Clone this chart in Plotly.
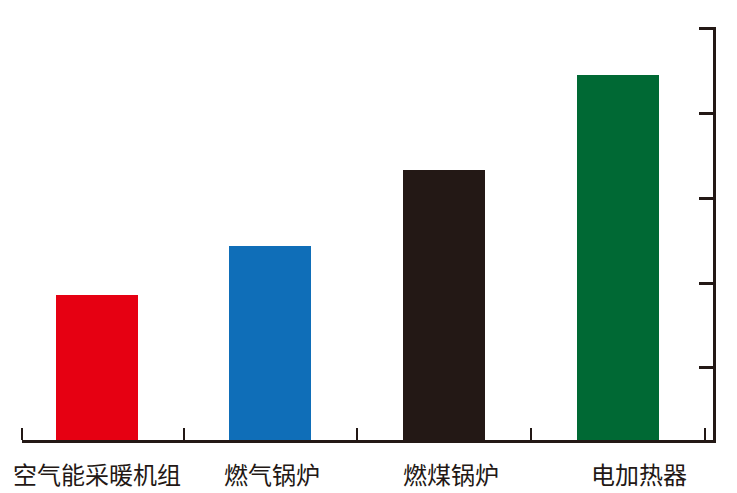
import plotly.graph_objects as go

categories = ["空气能采暖机组", "燃气锅炉", "燃煤锅炉", "电加热器"]
values = [1.856, 2.434, 3.334, 4.458]
colors = ["#E60012", "#0F6EB8", "#231815", "#006934"]
y_ticks = [1, 2, 3, 4, 5]

# horizontal nudges of the category labels (pixels), as laid out in the reference
label_shift = [0, 2, 7, 21]

axis_color = "#231815"

fig = go.Figure(
    go.Bar(
        x=categories,
        y=values,
        marker=dict(color=colors, line=dict(width=0)),
        width=0.472,
        showlegend=False,
    )
)

# page body adds an 8px offset; margins compensate so the plot area lands where the reference has it
fig.update_layout(
    width=737,
    height=493,
    margin=dict(l=14, r=32, t=19, b=61, autoexpand=False),
    paper_bgcolor="white",
    plot_bgcolor="white",
    font=dict(family="Noto Sans CJK SC", color=axis_color),
    bargap=0,
)

fig.update_xaxes(
    type="category",
    range=[-0.43, 3.548],
    automargin=False,
    showline=True,
    linecolor=axis_color,
    linewidth=3,
    ticks="inside",
    tickson="boundaries",
    ticklen=12,
    tickwidth=2,
    tickcolor=axis_color,
    showgrid=False,
    showticklabels=False,
)

fig.update_yaxes(
    side="right",
    range=[0.15, 5.02],
    automargin=False,
    tickvals=y_ticks,
    showticklabels=False,
    showline=True,
    linecolor=axis_color,
    linewidth=3,
    ticks="inside",
    ticklen=14,
    tickwidth=2.5,
    tickcolor=axis_color,
    showgrid=False,
    zeroline=False,
)

for cat, dx in zip(categories, label_shift):
    fig.add_annotation(
        x=cat, xref="x",
        y=0, yref="paper",
        yanchor="top",
        xanchor="center",
        yshift=-14,
        xshift=dx,
        text=cat,
        showarrow=False,
        font=dict(size=24, family="Noto Sans CJK SC", color=axis_color),
    )

fig.add_shape(
    type="line",
    xref="paper", yref="paper",
    x0=0, x1=0, y0=0, y1=12 / 413,
    line=dict(color=axis_color, width=2),
)

fig.write_html("out.html")
